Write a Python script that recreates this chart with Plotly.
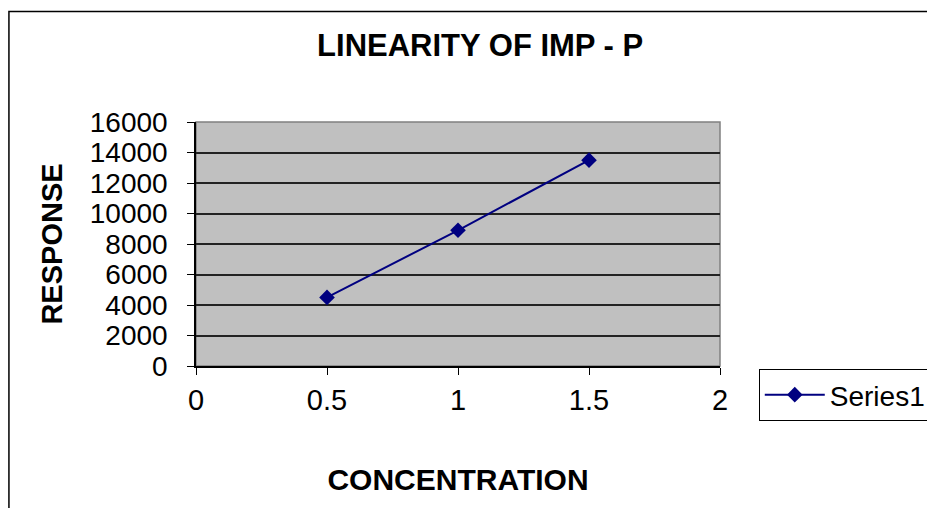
import plotly.graph_objects as go

concentration = [0.5, 1, 1.5]
response = [4500, 8900, 13500]
series_name = "Series1"

FONT = "Liberation Sans, Arial, sans-serif"
NAVY = "#000080"

fig = go.Figure()
fig.add_trace(
    go.Scatter(
        x=concentration,
        y=response,
        mode="lines+markers",
        name=series_name,
        line=dict(color=NAVY, width=2),
        marker=dict(symbol="diamond", size=12, color=NAVY),
    )
)

# chart outer frame and grey plot-area border
fig.add_shape(
    type="rect", xref="paper", yref="paper",
    x0=-0.357, x1=1.6, y0=-0.8, y1=1.453,
    line=dict(color="black", width=1.5), layer="below",
)
fig.add_shape(
    type="rect", xref="paper", yref="paper",
    x0=0, x1=1, y0=0, y1=1,
    line=dict(color="#808080", width=1.5), layer="below",
)

fig.update_layout(
    width=935,
    height=508,
    margin=dict(l=188, r=223, t=114, b=150),
    paper_bgcolor="white",
    plot_bgcolor="#c0c0c0",
    font=dict(family=FONT, color="black", size=28),
    title=dict(
        text="<b>LINEARITY OF IMP - P</b>",
        x=0.505, xanchor="center", y=0.927, yanchor="middle",
        font=dict(size=31),
    ),
    showlegend=True,
    legend=dict(
        x=1.074, xanchor="left", y=-0.012, yanchor="top",
        bordercolor="black", borderwidth=1, bgcolor="white",
        font=dict(size=28), itemwidth=60,
    ),
)

fig.update_xaxes(
    range=[0, 2], dtick=0.5, tick0=0,
    showgrid=False, zeroline=False,
    showline=True, linecolor="black", linewidth=1.5,
    ticks="outside", ticklen=7, tickcolor="black",
    tickfont=dict(size=29),
    title=dict(text="<b>CONCENTRATION</b>", font=dict(size=30), standoff=54),
)
fig.update_yaxes(
    range=[0, 16000], dtick=2000, tick0=0, tickformat="d",
    showgrid=True, gridcolor="#222222", gridwidth=1.5,
    zeroline=False,
    showline=True, linecolor="black", linewidth=1.5,
    ticks="outside", ticklen=7, tickcolor="black",
    tickfont=dict(size=28), ticklabelstandoff=14,
    title=dict(text="<b>RESPONSE</b>", font=dict(size=29), standoff=19),
)

fig.write_html("out.html")
